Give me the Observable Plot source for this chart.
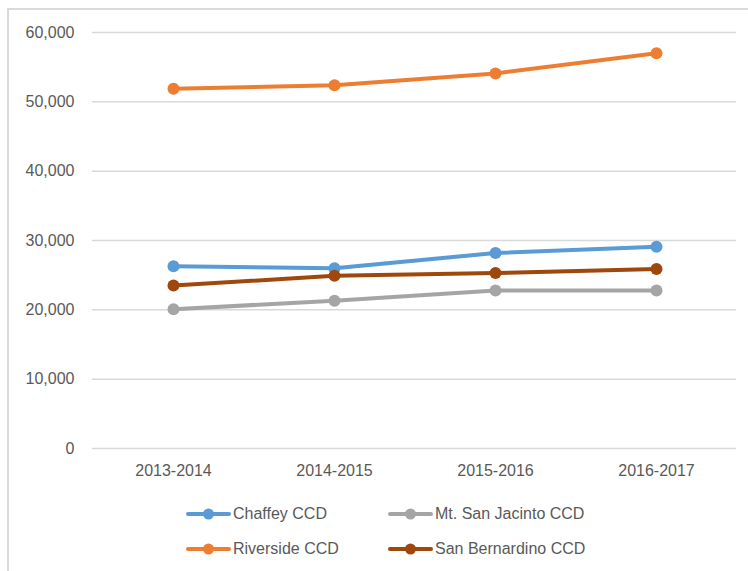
<!DOCTYPE html>
<html>
<head>
<meta charset="utf-8">
<script src="https://cdn.jsdelivr.net/npm/d3@7"></script>
<script src="https://cdn.jsdelivr.net/npm/@observablehq/plot@0.6"></script>
<style>
  html, body { margin: 0; padding: 0; background: #fff; }
  body { width: 748px; height: 571px; position: relative; overflow: hidden; font-family: "Liberation Sans", Arial, sans-serif; }
  #frame { position: absolute; left: 7px; top: 8px; right: -10px; bottom: -10px; border-left: 2px solid #d9d9d9; border-top: 2px solid #d9d9d9; }
  #chart { position: absolute; left: 0; top: 0; }
  .leg { position: absolute; display: flex; align-items: center; font-size: 16px; color: #595959; white-space: nowrap; }
  .leg svg { display: block; margin-right: 2px; }
</style>
</head>
<body>
<div id="frame"></div>
<div id="chart"></div>
<div id="legend"></div>
<script>
const years = ["2013-2014", "2014-2015", "2015-2016", "2016-2017"];
const seriesNames = ["Chaffey CCD", "Mt. San Jacinto CCD", "Riverside CCD", "San Bernardino CCD"];
const seriesColors = ["#5B9BD5", "#A5A5A5", "#ED7D31", "#9E480E"];
const chaffey = [26300, 26000, 28200, 29100];
const mtSanJacinto = [20100, 21300, 22800, 22800];
const riverside = [51900, 52400, 54100, 57000];
const sanBernardino = [23500, 24900, 25300, 25900];
const yTicks = [0, 10000, 20000, 30000, 40000, 50000, 60000];

const seriesValues = [chaffey, mtSanJacinto, riverside, sanBernardino];
const data = seriesNames.flatMap((name, i) =>
  years.map((yr, j) => ({series: name, year: yr, value: seriesValues[i][j]}))
);

const chart = Plot.plot({
  width: 748,
  height: 480,
  marginLeft: 92,
  marginRight: 12,
  marginTop: 32,
  marginBottom: 32,
  style: {fontFamily: '"Liberation Sans", Arial, sans-serif', fontSize: "16px", color: "#595959", background: "transparent"},
  x: {type: "point", domain: years, padding: 0.5, label: null},
  y: {domain: [0, 60000], label: null},
  color: {domain: seriesNames, range: seriesColors},
  marks: [
    Plot.ruleY(yTicks, {stroke: "#d9d9d9", strokeWidth: 1.5}),
    Plot.axisY({ticks: yTicks, tickFormat: d3.format(","), tickSize: 0, tickPadding: 18, fill: "#595959", label: null}),
    Plot.axisX({tickSize: 0, tickPadding: 16, fill: "#595959", label: null}),
    ...seriesNames.map((name, i) => [
      Plot.line(data.filter(d => d.series === name), {x: "year", y: "value", stroke: seriesColors[i], strokeWidth: 4, strokeLinejoin: "round", strokeLinecap: "round"}),
      Plot.dot(data.filter(d => d.series === name), {x: "year", y: "value", r: 6, fill: seriesColors[i], stroke: "none"})
    ]).flat()
  ]
});
document.getElementById("chart").appendChild(chart);

// legend
const legPos = [[186, 514], [388, 514], [186, 549], [388, 549]];
const legend = document.getElementById("legend");
seriesNames.forEach((name, i) => {
  const div = document.createElement("div");
  div.className = "leg";
  div.style.left = legPos[i][0] + "px";
  div.style.top = (legPos[i][1] - 10) + "px";
  div.style.height = "20px";
  div.innerHTML = `<svg width="45" height="14"><line x1="2" y1="7" x2="43" y2="7" stroke="${seriesColors[i]}" stroke-width="4" stroke-linecap="round"/><circle cx="22.5" cy="7" r="5.5" fill="${seriesColors[i]}"/></svg><span>${name}</span>`;
  legend.appendChild(div);
});
</script>
</body>
</html>
